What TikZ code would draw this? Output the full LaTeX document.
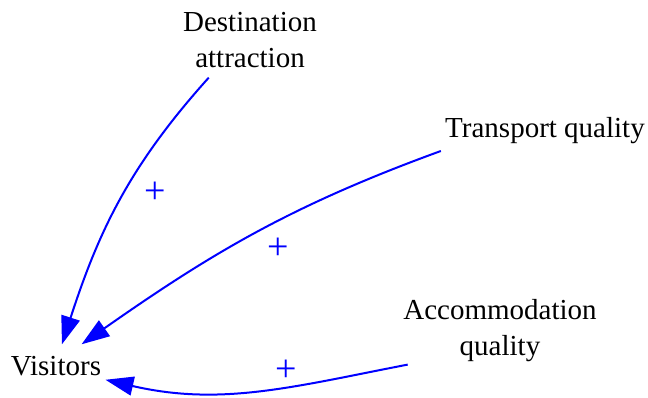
\documentclass[tikz,border=0pt]{standalone}
\usepackage{fontspec}
\setmainfont{Liberation Serif}
\usepackage{tikz}
\usetikzlibrary{arrows.meta}

\begin{document}
\begin{tikzpicture}[x=0.5pt,y=0.5pt,
  var/.style={font=\fontsize{14.5}{18}\selectfont, align=center, inner xsep=2pt},
  pol/.style={text=blue, font=\fontsize{19}{22}\selectfont, inner sep=0pt},
  link/.style={-{Triangle[length=14pt,width=9.5pt]}, blue, line width=1pt}
]
\useasboundingbox (0,0) rectangle (648,-397);
% Variables
\node[var, inner ysep=6pt]   (vis)   at (56,-366.5)   {Visitors};
\node[var, inner ysep=4.5pt] (dest)  at (250,-40.5)   {Destination\\attraction};
\node[var, inner ysep=3.5pt] (trans) at (545,-130.75) {Transport quality};
\node[var, inner ysep=1pt]   (acc)   at (500,-331)    {Accommodation\\quality};

% Links
\draw[link] (dest.222)  to[out=228,in=72]  (vis.75);
\draw[link] (trans.191) to[out=200,in=35]  (vis.41);
\draw[link] (acc.200)   to[out=191,in=347] (vis.-15);

% Polarities
\node[pol] (pdest)  at (155,-193) {+};
\node[pol] (ptrans) at (278,-249) {+};
\node[pol] (pacc)   at (286,-371) {+};
\end{tikzpicture}
\end{document}
